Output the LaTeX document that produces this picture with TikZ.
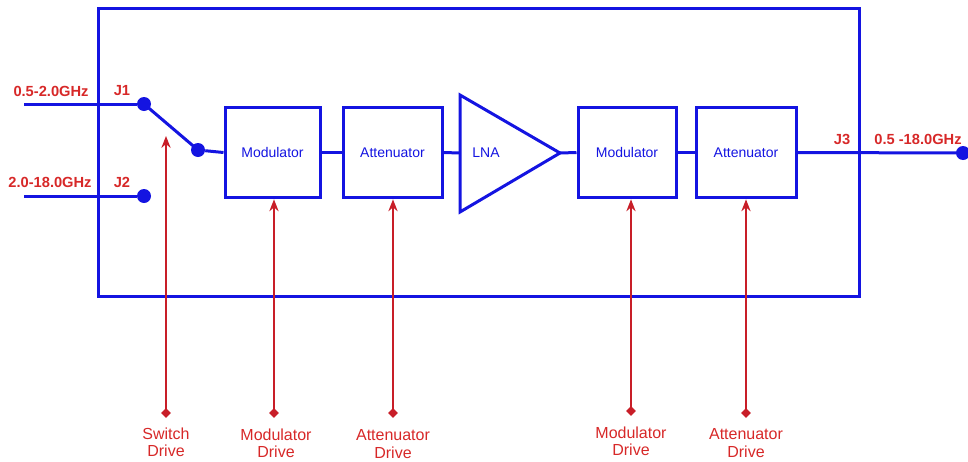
\documentclass[tikz,border=0pt]{standalone}
\usepackage{fontspec}
\setmainfont{Liberation Sans}
\usetikzlibrary{arrows.meta,shapes.geometric}
\definecolor{dblue}{RGB}{20,20,225}
\definecolor{dred}{RGB}{215,40,40}
\definecolor{lred}{RGB}{200,30,40}
\tikzset{
  bl/.style={draw=dblue,line width=2.25pt},
  blockbox/.style={draw=dblue,line width=2.25pt,minimum height=68pt,inner sep=0pt,
    font=\fontsize{10.5}{12}\selectfont,text=dblue},
  portdot/.style={circle,fill=dblue,inner sep=0pt,minimum size=10.5pt},
  toplabel/.style={font=\bfseries\fontsize{11}{13}\selectfont,text=dred},
  drivelabel/.style={font=\fontsize{12}{13}\selectfont,text=dred,align=center},
  drivearrow/.style={draw=lred,line width=1pt,-{Stealth[length=9pt,width=7pt,inset=3pt]}},
  footdiamond/.style={diamond,fill=lred,inner sep=0pt,minimum size=7.5pt}
}
\begin{document}
\begin{tikzpicture}[x=0.75pt,y=-0.75pt]
\useasboundingbox (0,0) rectangle (968,461);
% enclosure
\draw[bl] (98,8) rectangle (859,296);
% blocks
\node[blockbox,minimum width=71.25pt] (mod1) at (272.5,152.5) {Modulator};
\node[blockbox,minimum width=74.25pt] (att1) at (392.5,152.5) {Attenuator};
\node[blockbox,minimum width=73.5pt] (mod2) at (627,152.5) {Modulator};
\node[blockbox,minimum width=75pt] (att2) at (746,152.5) {Attenuator};
% LNA
\coordinate (lnain) at (460,153);
\coordinate (lnaout) at (560,153);
\draw[bl,line join=miter] (460,95) -- (lnaout) -- (460,212) -- cycle;
\node[font=\fontsize{10.5}{12}\selectfont,text=dblue] (lna) at (486,153) {LNA};
% ports
\node[portdot] (j1) at (144,104) {};
\node[portdot] (j2) at (144,196) {};
\node[portdot] (sw) at (198,150) {};
\node[portdot] (j3) at (963,153) {};
\coordinate (in1) at (24,104);
\coordinate (in2) at (24,196);
% connectors
\draw[bl] (in1) -- (j1);
\draw[bl] (in2) -- (j2);
\draw[bl] (j1.center) -- (sw.center);
\draw[bl] (sw) -- (mod1.west);
\draw[bl] (mod1.east) -- (att1.west);
\draw[bl] (att1.east) -- (lnain);
\draw[bl] (lnaout) -- (mod2.west);
\draw[bl] (mod2.east) -- (att2.west);
\draw[bl] (att2.east) -- (j3.center);
% labels
\node[toplabel] (l1) at (51,91) {0.5-2.0GHz};
\node[toplabel] (lj1) at (122,91) {J1};
\node[toplabel] (l2) at (50,182) {2.0-18.0GHz};
\node[toplabel] (lj2) at (122,182) {J2};
\node[toplabel] (lj3) at (842,139) {J3};
\node[toplabel] (l3) at (918,139) {0.5 -18.0GHz};
% drives
\node[footdiamond] (d1) at (166,413) {};
\node[footdiamond] (d2) at (274,413) {};
\node[footdiamond] (d3) at (393,413) {};
\node[footdiamond] (d4) at (631,411) {};
\node[footdiamond] (d5) at (746,413) {};
\coordinate (swtip) at (166,136);
\draw[drivearrow] (d1.center) -- (swtip);
\draw[drivearrow] (d2.center) -- (d2.center |- mod1.south);
\draw[drivearrow] (d3.center) -- (d3.center |- att1.south);
\draw[drivearrow] (d4.center) -- (d4.center |- mod2.south);
\draw[drivearrow] (d5.center) -- (d5.center |- att2.south);
\node[drivelabel] (t1) at (166,442) {Switch\\Drive};
\node[drivelabel] (t2) at (276,443) {Modulator\\Drive};
\node[drivelabel] (t3) at (393,444) {Attenuator\\Drive};
\node[drivelabel] (t4) at (631,441) {Modulator\\Drive};
\node[drivelabel] (t5) at (746,443) {Attenuator\\Drive};
\end{tikzpicture}
\end{document}
